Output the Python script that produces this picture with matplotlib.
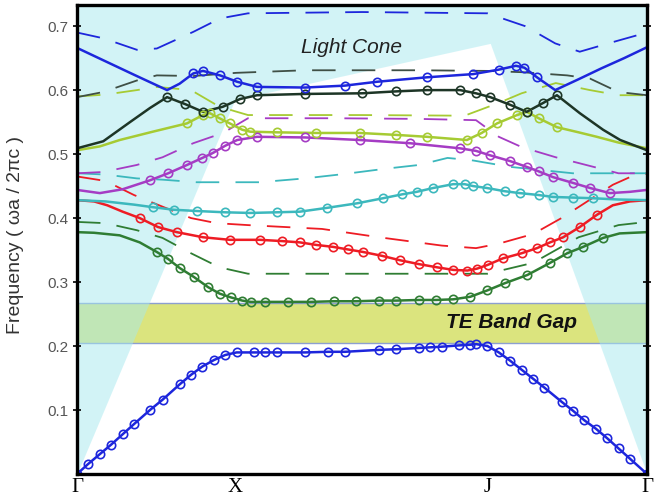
import matplotlib
matplotlib.use("Agg")
import numpy as np
import matplotlib.pyplot as plt

# symmetry points along the k-path (fraction of path length)
K_TICKS = [0.0, 0.277, 0.721, 1.0]
K_LABELS = ["Γ", "X", "J", "Γ"]
F_TICKS = [0.1, 0.2, 0.3, 0.4, 0.5, 0.6, 0.7]

# light line (Γ, X, J, Γ)
cone_k = [0.0, 0.277, 0.725, 1.0]
cone_f = [0.0, 0.585, 0.673, 0.0]

# TE band gap edges
gap_lo = 0.205
gap_hi = 0.268

# ---- solid bands (TE-like) ----
b1_k = [0.0, 0.02, 0.04, 0.06, 0.08, 0.10, 0.128, 0.15, 0.18, 0.20, 0.22, 0.24, 0.26, 0.28,
        0.31, 0.33, 0.35, 0.40, 0.44, 0.47, 0.53, 0.56, 0.60, 0.62, 0.64, 0.67, 0.69, 0.70,
        0.72, 0.74, 0.76, 0.78, 0.80, 0.82, 0.85, 0.87, 0.89, 0.91, 0.93, 0.95, 0.97, 1.0]
b1_f = [0.0, 0.016, 0.031, 0.046, 0.062, 0.078, 0.1, 0.116, 0.14, 0.155, 0.168, 0.178, 0.186, 0.19,
        0.19, 0.19, 0.19, 0.19, 0.191, 0.191, 0.194, 0.195, 0.197, 0.198, 0.199, 0.201, 0.202, 0.203,
        0.2, 0.19, 0.177, 0.163, 0.149, 0.135, 0.113, 0.099, 0.084, 0.071, 0.056, 0.04, 0.024, 0.0]

b2_k = [0.0, 0.03, 0.075, 0.11, 0.14, 0.16, 0.18, 0.205, 0.23, 0.25, 0.27, 0.29, 0.305, 0.33,
        0.37, 0.41, 0.45, 0.49, 0.53, 0.56, 0.60, 0.63, 0.66, 0.69, 0.72, 0.75, 0.79, 0.83,
        0.86, 0.888, 0.923, 0.952, 1.0]
b2_f = [0.378, 0.377, 0.373, 0.362, 0.347, 0.336, 0.322, 0.308, 0.292, 0.282, 0.276, 0.271, 0.269, 0.269,
        0.269, 0.269, 0.27, 0.27, 0.271, 0.271, 0.272, 0.272, 0.273, 0.277, 0.287, 0.298, 0.311, 0.33,
        0.345, 0.355, 0.369, 0.376, 0.378]

b3_k = [0.0, 0.03, 0.053, 0.08, 0.11, 0.142, 0.175, 0.221, 0.268, 0.321, 0.36, 0.391, 0.42, 0.449,
        0.475, 0.502, 0.535, 0.567, 0.60, 0.632, 0.66, 0.685, 0.702, 0.721, 0.747, 0.78, 0.807,
        0.83, 0.853, 0.882, 0.912, 0.94, 0.97, 1.0]
b3_f = [0.428, 0.426, 0.42, 0.41, 0.40, 0.386, 0.378, 0.37, 0.366, 0.366, 0.364, 0.362, 0.358, 0.355,
        0.351, 0.347, 0.341, 0.334, 0.328, 0.323, 0.319, 0.318, 0.321, 0.327, 0.337, 0.345, 0.353,
        0.362, 0.37, 0.386, 0.405, 0.42, 0.426, 0.428]

b4_k = [0.0, 0.05, 0.10, 0.133, 0.17, 0.211, 0.26, 0.304, 0.35, 0.391, 0.439, 0.491, 0.537, 0.57,
        0.596, 0.625, 0.66, 0.68, 0.695, 0.719, 0.75, 0.777, 0.81, 0.835, 0.87, 0.905, 0.95, 1.0]
b4_f = [0.428, 0.426, 0.421, 0.417, 0.413, 0.411, 0.409, 0.408, 0.409, 0.41, 0.416, 0.423, 0.431, 0.437,
        0.441, 0.447, 0.453, 0.453, 0.45, 0.447, 0.442, 0.439, 0.436, 0.433, 0.432, 0.431, 0.429, 0.428]

b5_k = [0.0, 0.04, 0.08, 0.128, 0.16, 0.193, 0.22, 0.239, 0.26, 0.281, 0.316, 0.40, 0.496, 0.584,
        0.672, 0.70, 0.725, 0.76, 0.789, 0.81, 0.835, 0.87, 0.90, 0.935, 0.97, 1.0]
b5_f = [0.444, 0.439, 0.445, 0.459, 0.47, 0.483, 0.494, 0.502, 0.513, 0.522, 0.527, 0.526, 0.522, 0.517,
        0.509, 0.505, 0.498, 0.489, 0.48, 0.473, 0.464, 0.455, 0.447, 0.439, 0.441, 0.444]

b6_k = [0.0, 0.04, 0.075, 0.133, 0.193, 0.221, 0.233, 0.25, 0.268, 0.29, 0.304, 0.35, 0.42, 0.496,
        0.56, 0.614, 0.684, 0.71, 0.737, 0.772, 0.789, 0.81, 0.842, 0.88, 0.912, 0.95, 1.0]
b6_f = [0.506, 0.512, 0.522, 0.535, 0.548, 0.561, 0.564, 0.556, 0.548, 0.538, 0.535, 0.534, 0.533, 0.533,
        0.53, 0.527, 0.522, 0.533, 0.548, 0.561, 0.566, 0.556, 0.542, 0.534, 0.527, 0.518, 0.509]

b7_k = [0.0, 0.046, 0.093, 0.128, 0.158, 0.19, 0.221, 0.256, 0.286, 0.316, 0.40, 0.50, 0.56, 0.614,
        0.672, 0.70, 0.725, 0.76, 0.789, 0.818, 0.842, 0.882, 0.923, 0.953, 1.0]
b7_f = [0.509, 0.52, 0.55, 0.572, 0.589, 0.578, 0.566, 0.574, 0.586, 0.592, 0.594, 0.595, 0.598, 0.60,
        0.60, 0.595, 0.589, 0.577, 0.566, 0.58, 0.592, 0.564, 0.538, 0.522, 0.506]

b8_k = [0.0, 0.05, 0.10, 0.158, 0.18, 0.204, 0.221, 0.251, 0.281, 0.316, 0.40, 0.47, 0.526, 0.614,
        0.695, 0.74, 0.77, 0.785, 0.807, 0.839, 0.88, 0.92, 0.96, 1.0]
b8_f = [0.666, 0.645, 0.624, 0.60, 0.61, 0.626, 0.63, 0.623, 0.613, 0.605, 0.604, 0.607, 0.613, 0.62,
        0.625, 0.632, 0.638, 0.635, 0.62, 0.60, 0.617, 0.634, 0.65, 0.667]

# ---- dashed bands (odd / TM-like) ----
d_blue_k = [0.0, 0.046, 0.105, 0.14, 0.204, 0.251, 0.30, 0.50, 0.72, 0.786, 0.839, 0.882, 0.94, 1.0]
d_blue_f = [0.69, 0.681, 0.663, 0.665, 0.691, 0.712, 0.72, 0.722, 0.72, 0.70, 0.673, 0.66, 0.675, 0.69]

d_gray_k = [0.0, 0.046, 0.105, 0.14, 0.204, 0.28, 0.40, 0.60, 0.72, 0.78, 0.86, 0.90, 0.95, 1.0]
d_gray_f = [0.589, 0.597, 0.615, 0.623, 0.622, 0.627, 0.631, 0.631, 0.63, 0.628, 0.623, 0.618, 0.597, 0.592]

d_lime_k = [0.0, 0.05, 0.105, 0.14, 0.20, 0.25, 0.30, 0.50, 0.68, 0.74, 0.78, 0.84, 0.90, 0.95, 1.0]
d_lime_f = [0.59, 0.593, 0.60, 0.605, 0.60, 0.574, 0.561, 0.561, 0.56, 0.58, 0.595, 0.611, 0.60, 0.592, 0.592]

d_purple_k = [0.0, 0.046, 0.105, 0.15, 0.204, 0.256, 0.30, 0.45, 0.60, 0.70, 0.74, 0.78, 0.84, 0.88, 0.95, 1.0]
d_purple_f = [0.47, 0.472, 0.483, 0.495, 0.517, 0.533, 0.556, 0.556, 0.555, 0.553, 0.527, 0.511, 0.495, 0.486, 0.47, 0.47]

d_cyan_k = [0.0, 0.05, 0.105, 0.15, 0.21, 0.32, 0.40, 0.47, 0.54, 0.60, 0.65, 0.695, 0.76, 0.87, 1.0]
d_cyan_f = [0.47, 0.468, 0.462, 0.46, 0.456, 0.456, 0.462, 0.469, 0.477, 0.483, 0.494, 0.49, 0.48, 0.47, 0.47]

d_red_k = [0.0, 0.05, 0.10, 0.13, 0.20, 0.245, 0.30, 0.43, 0.53, 0.64, 0.70, 0.74, 0.80, 0.85, 0.89, 0.94, 0.97, 1.0]
d_red_f = [0.465, 0.458, 0.436, 0.425, 0.40, 0.392, 0.389, 0.383, 0.37, 0.357, 0.353, 0.36, 0.375, 0.40, 0.423, 0.452, 0.464, 0.47]

d_green_k = [0.0, 0.05, 0.105, 0.15, 0.20, 0.25, 0.30, 0.60, 0.72, 0.80, 0.88, 0.95, 1.0]
d_green_f = [0.394, 0.392, 0.381, 0.369, 0.345, 0.323, 0.313, 0.313, 0.313, 0.33, 0.37, 0.389, 0.394]

BLUE = "#1d26dc"
GREEN = "#2f7d33"
RED = "#ee1c24"
CYAN = "#3cb8bd"
PURPLE = "#a53cc4"
LIME = "#a6cb33"
DARK = "#1d3526"
GRAY = "#3f4f45"
CONE = "#a6e9ef"
GAP = "#dbe47e"

# (k, f, colour, marker range)
solid = [
    (b1_k, b1_f, BLUE, (0.0, 1.0)),
    (b2_k, b2_f, GREEN, (0.13, 0.93)),
    (b3_k, b3_f, RED, (0.10, 0.92)),
    (b4_k, b4_f, CYAN, (0.12, 0.93)),
    (b5_k, b5_f, PURPLE, (0.12, 0.94)),
    (b6_k, b6_f, LIME, (0.17, 0.85)),
    (b7_k, b7_f, DARK, (0.15, 0.86)),
    (b8_k, b8_f, BLUE, (0.19, 0.81)),
]
dashed = [
    (d_green_k, d_green_f, GREEN),
    (d_red_k, d_red_f, RED),
    (d_cyan_k, d_cyan_f, CYAN),
    (d_purple_k, d_purple_f, PURPLE),
    (d_lime_k, d_lime_f, LIME),
    (d_gray_k, d_gray_f, GRAY),
    (d_blue_k, d_blue_f, BLUE),
]

YMAX = 0.733

fig = plt.figure(figsize=(6.65, 5.04), dpi=100)
ax = fig.add_axes([77 / 665, 30 / 504, 570 / 665, 469 / 504])

# band gap, then the light cone washed over it
ax.axhspan(gap_lo, gap_hi, facecolor=GAP, edgecolor="none", zorder=0)
ax.axhline(gap_lo, color="#8d9fd0", lw=1.0, zorder=1)
ax.axhline(gap_hi, color="#8d9fd0", lw=1.0, zorder=1)
ax.fill_between(cone_k, cone_f, YMAX, color=CONE, alpha=0.5, lw=0, zorder=1)

for k, f, c in dashed:
    ax.plot(k, f, color=c, lw=1.3, dashes=(13, 9), zorder=2)

for k, f, c, (k0, k1) in solid:
    k = np.asarray(k)
    f = np.asarray(f)
    ax.plot(k, f, color=c, lw=1.8, zorder=3)
    m = (k >= k0) & (k <= k1)
    ax.plot(k[m], f[m], "o", ms=6, mfc="none", mec=c, mew=1.2, zorder=4)

ax.text(0.482, 0.667, "Light Cone", fontsize=15, style="italic",
        family="Liberation Sans", color="#222222", ha="center", va="center", zorder=5)
ax.text(0.763, 0.237, "TE Band Gap", fontsize=15, style="italic", weight="bold",
        family="Liberation Sans", color="#111111", ha="center", va="center", zorder=5)

ax.set_xlim(0, 1)
ax.set_ylim(0, YMAX)
ax.set_xticks(K_TICKS)
ax.set_xticklabels(K_LABELS, family="Liberation Serif", fontsize=15)
ax.tick_params(axis="x", length=0, pad=3)
ax.set_yticks(F_TICKS)
ax.set_yticklabels([f"{v:.1f}" for v in F_TICKS], family="Liberation Sans",
                   fontsize=11, color="#555555")
ax.tick_params(axis="y", direction="inout", length=6, width=1.2, right=True, pad=3)
ax.set_ylabel("Frequency ( ωa / 2πc )", family="Liberation Sans", fontsize=14, color="#333333")
ax.yaxis.set_label_coords(-0.093, 0.51)
for s in ax.spines.values():
    s.set_linewidth(2.4)
    s.set_zorder(6)

fig.savefig("out.png", dpi=100)
